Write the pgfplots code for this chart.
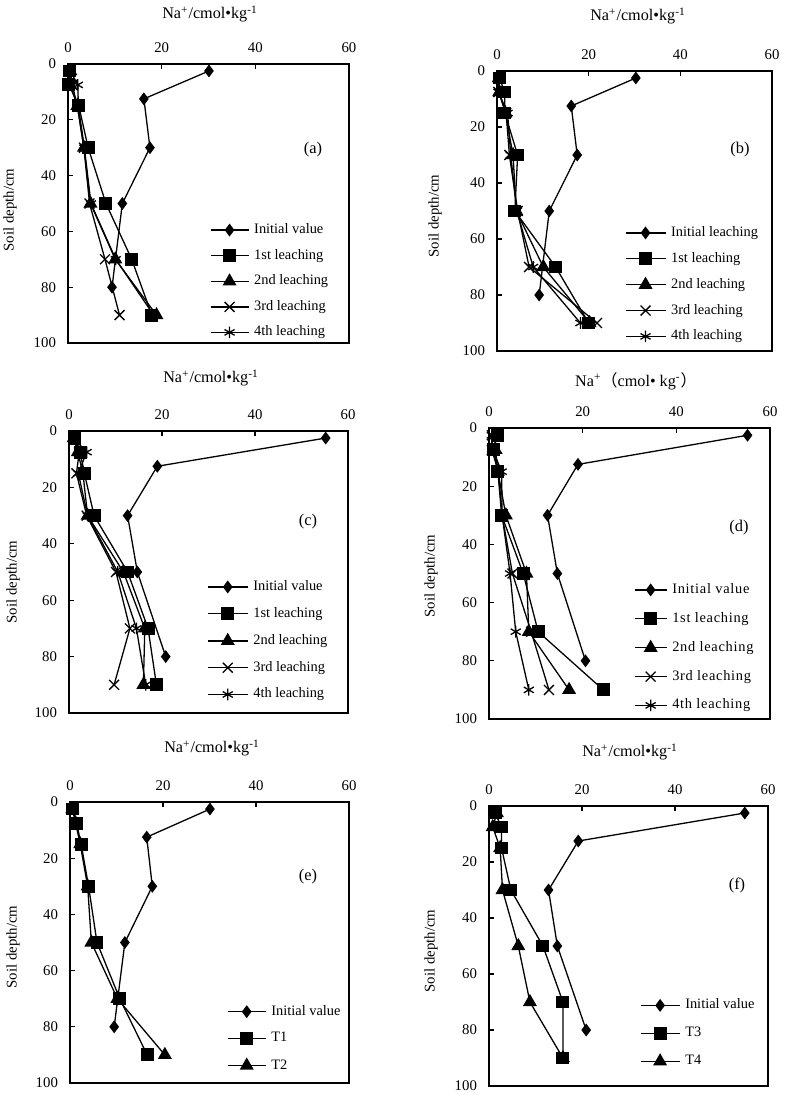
\documentclass[border=0pt]{standalone}
\usepackage{fontspec}
\setmainfont{Liberation Serif}
\newfontfamily\cjk{Noto Sans CJK SC}
\usepackage{pgfplots}
\pgfplotsset{compat=1.18}

\pgfplotsset{
  panel/.style={
    scale only axis,
    anchor=south west,
    xmin=0, xmax=60, ymin=0, ymax=100,
    y dir=reverse,
    xtick={0,20,40,60}, ytick={0,20,40,60,80,100},
    xtick pos=right, xticklabel pos=right,
    ytick pos=left, yticklabel pos=left,
    tick align=inside,
    major tick length=2.5pt,
    axis line style={line width=0.75pt},
    tick style={line width=0.6pt, black},
    ticklabel style={font=\fontsize{7.4}{8}\selectfont},
    /pgf/number format/assume math mode=true,
    xticklabel shift=2pt,
    yticklabel shift=2.5pt,
    legend cell align=left,
    legend style={draw=none, fill=none, inner sep=0pt, outer sep=0pt, anchor=north west,
       font=\fontsize{7.2}{8}\selectfont,
       nodes={inner sep=0pt, text height=5pt, text depth=1.5pt},
       /tikz/every odd column/.append style={column sep=2.5pt}},
    every axis plot/.append style={black, line width=0.65pt, mark options={solid}},
  },
  leglen/.style={legend image code/.code={%
      \draw[mark repeat=2, mark phase=2] plot coordinates {(0pt,0pt) (#1/2,0pt) (#1,0pt)};}},
  ini/.style={mark=diamond*, mark size=2.7pt},
  sq/.style={mark=square*, mark size=2.9pt},
  tri/.style={mark=triangle*, mark size=3.4pt},
  xx/.style={mark=x, mark size=3.5pt},
  ast/.style={mark=asterisk, mark size=2.9pt},
}
\newcommand{\naunit}{Na\textsuperscript{+}/cmol•kg\textsuperscript{-1}}
\newcommand{\labfont}{\fontsize{7.4}{8}\selectfont}
\newcommand{\titfont}{\fontsize{8.1}{9}\selectfont}

\begin{document}
\begin{tikzpicture}
\path[use as bounding box] (0pt,0pt) rectangle (392pt,-547.5pt);

% ---------- (a)
\begin{axis}[panel, at={(34pt,-171.5pt)}, width=140.5pt, height=139.5pt,
  legend style={at={(axis description cs:0.505,0.428)}, row sep=6.25pt}, leglen=19pt]
\addplot[ini] coordinates {(30.1,2.5) (16.2,12.5) (17.5,30) (11.6,50) (9.4,80)};
\addlegendentry{Initial value}
\addplot[sq] coordinates {(0.4,2.5) (0.2,7.5) (2.3,15) (4.3,30) (8.1,50) (13.6,70) (17.9,90)};
\addlegendentry{1st leaching}
\addplot[tri] coordinates {(0.5,2.5) (0.5,7.5) (2.0,15) (3.4,30) (4.8,50) (10.1,70) (18.9,90)};
\addlegendentry{2nd leaching}
\addplot[xx] coordinates {(0.5,2.5) (0.9,7.5) (2.0,15) (3.4,30) (4.6,50) (7.9,70) (11.0,90)};
\addlegendentry{3rd leaching}
\addplot[ast] coordinates {(0.5,2.5) (2.1,7.5) (2.2,15) (3.5,30) (4.9,50) (10.2,70) (18.3,90)};
\addlegendentry{4th leaching}
\end{axis}

% ---------- (b)
\begin{axis}[panel, at={(248.5pt,-175.5pt)}, width=137.5pt, height=140pt,
  legend style={at={(axis description cs:0.465,0.445)}, row sep=6.4pt}, leglen=20pt]
\addplot[ini] coordinates {(30.3,2.5) (16.2,12.5) (17.5,30) (11.4,50) (9.2,80)};
\addlegendentry{Initial leaching}
\addplot[sq] coordinates {(0.5,2.5) (1.7,7.5) (1.7,15) (4.5,30) (3.9,50) (12.8,70) (20.0,90)};
\addlegendentry{1st leaching}
\addplot[tri] coordinates {(0.4,2.5) (0.5,7.5) (1.8,15) (3.5,30) (4.2,50) (10.1,70) (20.2,90)};
\addlegendentry{2nd leaching}
\addplot[xx] coordinates {(0.3,2.5) (0.3,7.5) (2.0,15) (2.7,30) (4.5,50) (7.0,70) (21.8,90)};
\addlegendentry{3rd leaching}
\addplot[ast] coordinates {(0.3,2.5) (0.3,7.5) (2.3,15) (3.0,30) (4.3,50) (7.9,70) (18.2,90)};
\addlegendentry{4th leaching}
\end{axis}

% ---------- (c)
\begin{axis}[panel, at={(34.5pt,-356.5pt)}, width=139.5pt, height=141pt,
  legend style={at={(axis description cs:0.495,0.470)}, row sep=6.9pt}, leglen=20pt]
\addplot[ini] coordinates {(55.2,2.5) (19.0,12.5) (12.6,30) (14.7,50) (20.8,80)};
\addlegendentry{Initial value}
\addplot[sq] coordinates {(1.1,2.5) (2.4,7.5) (3.3,15) (5.4,30) (12.6,50) (17.0,70) (18.8,90)};
\addlegendentry{1st leaching}
\addplot[tri] coordinates {(1.0,2.5) (1.9,7.5) (3.0,15) (4.0,30) (11.7,50) (16.3,70) (16.0,90)};
\addlegendentry{2nd leaching}
\addplot[xx] coordinates {(1.0,2.5) (2.2,7.5) (1.6,15) (3.8,30) (10.1,50) (13.1,70) (9.7,90)};
\addlegendentry{3rd leaching}
\addplot[ast] coordinates {(1.0,2.5) (3.8,7.5) (2.0,15) (4.0,30) (10.5,50) (14.5,70) (16.5,90)};
\addlegendentry{4th leaching}
\end{axis}

% ---------- (d)
\begin{axis}[panel, at={(244.5pt,-359.5pt)}, width=140.5pt, height=145.5pt,
  legend style={at={(axis description cs:0.516,0.466)}, row sep=7.9pt,
    font=\fontsize{7.2}{8}\selectfont\addfontfeature{LetterSpace=5}}, leglen=16pt]
\addplot[ini] coordinates {(55.2,2.5) (19.0,12.5) (12.5,30) (14.6,50) (20.6,80)};
\addlegendentry{Initial value}
\addplot[sq] coordinates {(1.8,2.5) (0.9,7.5) (1.9,15) (2.7,30) (7.3,50) (10.5,70) (24.4,90)};
\addlegendentry{1st leaching}
\addplot[tri] coordinates {(1.2,2.5) (1.4,7.5) (1.9,15) (3.6,30) (8.0,50) (8.5,70) (17.1,90)};
\addlegendentry{2nd leaching}
\addplot[xx] coordinates {(0.6,2.5) (0.6,7.5) (2.0,15) (2.8,30) (5.0,50) (9.0,70) (12.8,90)};
\addlegendentry{3rd leaching}
\addplot[ast] coordinates {(0.6,2.5) (0.8,7.5) (2.7,15) (2.8,30) (4.5,50) (5.7,70) (8.5,90)};
\addlegendentry{4th leaching}
\end{axis}

% ---------- (e)
\begin{axis}[panel, at={(35pt,-541.5pt)}, width=139.5pt, height=140.5pt,
  legend style={at={(axis description cs:0.563,0.277)}, row sep=6.9pt}, leglen=19pt]
\addplot[ini] coordinates {(30.1,2.5) (16.5,12.5) (17.7,30) (11.8,50) (9.5,80)};
\addlegendentry{Initial value}
\addplot[sq] coordinates {(0.6,2.5) (1.4,7.5) (2.4,15) (4.0,30) (5.8,50) (10.7,70) (16.6,90)};
\addlegendentry{T1}
\addplot[tri] coordinates {(0.5,2.5) (1.2,7.5) (2.2,15) (3.8,30) (4.6,50) (10.2,70) (20.4,90)};
\addlegendentry{T2}
\end{axis}

% ---------- (f)
\begin{axis}[panel, at={(244.5pt,-543pt)}, width=139.5pt, height=140pt,
  legend style={at={(axis description cs:0.541,0.311)}, row sep=7.4pt}, leglen=19.5pt]
\addplot[ini] coordinates {(55.0,2.5) (19.2,12.5) (12.8,30) (14.7,50) (20.9,80)};
\addlegendentry{Initial value}
\addplot[sq] coordinates {(1.3,2.5) (2.7,7.5) (2.7,15) (4.7,30) (11.6,50) (15.9,70) (15.9,90)};
\addlegendentry{T3}
\addplot[tri] coordinates {(1.7,2.5) (0.8,7.5) (2.4,15) (2.9,30) (6.3,50) (8.8,70) (15.9,90)};
\addlegendentry{T4}
\end{axis}

% ---------- titles (x labels)
\node[font=\titfont] at (105pt,-7pt) {\naunit};
\node[font=\titfont] at (319pt,-8pt) {\naunit};
\node[font=\titfont] at (105.5pt,-189pt) {\naunit};
\node[font=\titfont] at (318pt,-190.5pt) {Na\textsuperscript{+}{\cjk （}cmol• kg\textsuperscript{-}{\cjk ）}};
\node[font=\titfont] at (106pt,-374pt) {\naunit};
\node[font=\titfont] at (315pt,-376pt) {\naunit};

% ---------- y labels
\node[font=\labfont, rotate=90] at (5pt,-105pt) {Soil depth/cm};
\node[font=\labfont, rotate=90] at (217.5pt,-108pt) {Soil depth/cm};
\node[font=\labfont, rotate=90] at (6.5pt,-291pt) {Soil depth/cm};
\node[font=\labfont, rotate=90] at (215.5pt,-288pt) {Soil depth/cm};
\node[font=\labfont, rotate=90] at (6.5pt,-473.5pt) {Soil depth/cm};
\node[font=\labfont, rotate=90] at (215.5pt,-475.5pt) {Soil depth/cm};

% ---------- panel letters
\node[font=\fontsize{8.2}{9}\selectfont] at (156.5pt,-75pt) {(a)};
\node[font=\fontsize{8.2}{9}\selectfont] at (370pt,-75pt) {(b)};
\node[font=\fontsize{8.2}{9}\selectfont] at (154pt,-261pt) {(c)};
\node[font=\fontsize{8.2}{9}\selectfont] at (369.5pt,-264pt) {(d)};
\node[font=\fontsize{8.2}{9}\selectfont] at (154pt,-438.5pt) {(e)};
\node[font=\fontsize{8.2}{9}\selectfont] at (368.5pt,-442.5pt) {(f)};
\end{tikzpicture}
\end{document}
